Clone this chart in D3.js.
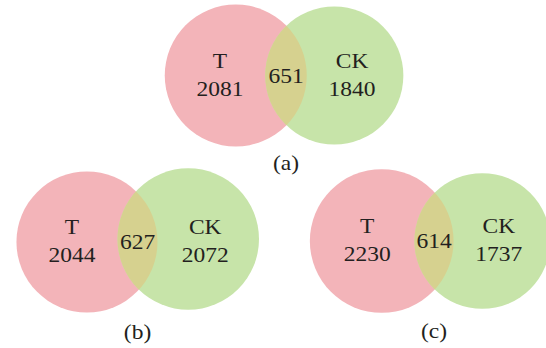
<!DOCTYPE html>
<html>
<head>
<meta charset="utf-8">
<script src="https://cdn.jsdelivr.net/npm/d3@7/dist/d3.min.js"></script>
<style>
  html, body { margin: 0; padding: 0; background: #fff; }
  svg { display: block; }
</style>
</head>
<body>
<svg id="chart" width="546" height="348"></svg>
<script>
// Two-set Venn diagrams: genes unique to T, unique to CK, and shared
const panels   = ["(a)", "(b)", "(c)"];
const setNames = ["T", "CK"];
const tOnly    = [2081, 2044, 2230];
const ckOnly   = [1840, 2072, 1737];
const shared   = [651, 627, 614];

const svg = d3.select("#chart");
const serif = "'Liberation Serif', 'Times New Roman', Times, serif";

// where each diagram's overlap sits (centre of the lens), the CK circle's
// vertical nudge, and the caption baseline
const anchors = [
  { x: 286,   y: 75.5, ckDy: 0,  cap: 170 },
  { x: 137.5, y: 242,  ckDy: -3, cap: 339 },
  { x: 434,   y: 241,  ckDy: 0,  cap: 338 }
];

// circle size grows (gently) with set size
const rScale = d3.scalePow().exponent(0.3).domain([0, 2732]).range([0, 71]);
// width of the overlapping lens grows with the shared count
const lensScale = d3.scaleLinear().domain([0, 651]).range([0, 41.5]);

const colT = "#f3b4b9", colCK = "#c7e4a9", colBoth = "#d6d18f";
const fontSize = 21, stretch = 1.12;

function label(g, x, y, t) {
  g.append("text")
    .attr("transform", `translate(${x},${y}) scale(${stretch},1)`)
    .attr("text-anchor", "middle")
    .attr("font-family", serif)
    .attr("font-size", fontSize)
    .attr("fill", "#231f20")
    .text(t);
}

panels.forEach((p, i) => {
  const a = anchors[i];
  const rT = rScale(tOnly[i] + shared[i]);
  const rC = rScale(ckOnly[i] + shared[i]);
  const lens = lensScale(shared[i]);
  // lens spans from (cC - rC) to (cT + rT)
  const lensL = a.x - lens / 2, lensR = a.x + lens / 2;
  const cT = lensR - rT, cC = lensL + rC;
  const yT = a.y, yC = a.y + a.ckDy;

  const g = svg.append("g");
  const clipId = "clipT" + i;
  g.append("clipPath").attr("id", clipId)
    .append("circle").attr("cx", cT).attr("cy", yT).attr("r", rT);

  g.append("circle").attr("cx", cT).attr("cy", yT).attr("r", rT).attr("fill", colT);
  g.append("circle").attr("cx", cC).attr("cy", yC).attr("r", rC).attr("fill", colCK);
  g.append("circle").attr("cx", cC).attr("cy", yC).attr("r", rC)
    .attr("fill", colBoth).attr("clip-path", `url(#${clipId})`);

  const tX = (cT - rT + lensL) / 2 + 5;
  const cX = (lensR + cC + rC) / 2 - 3;

  label(g, tX, a.y - 8, setNames[0]);
  label(g, tX, a.y + 20, tOnly[i]);
  label(g, a.x, a.y + 7, shared[i]);
  label(g, cX, a.y - 8, setNames[1]);
  label(g, cX, a.y + 20, ckOnly[i]);
  label(g, a.x, a.cap, p);
});
</script>
</body>
</html>
